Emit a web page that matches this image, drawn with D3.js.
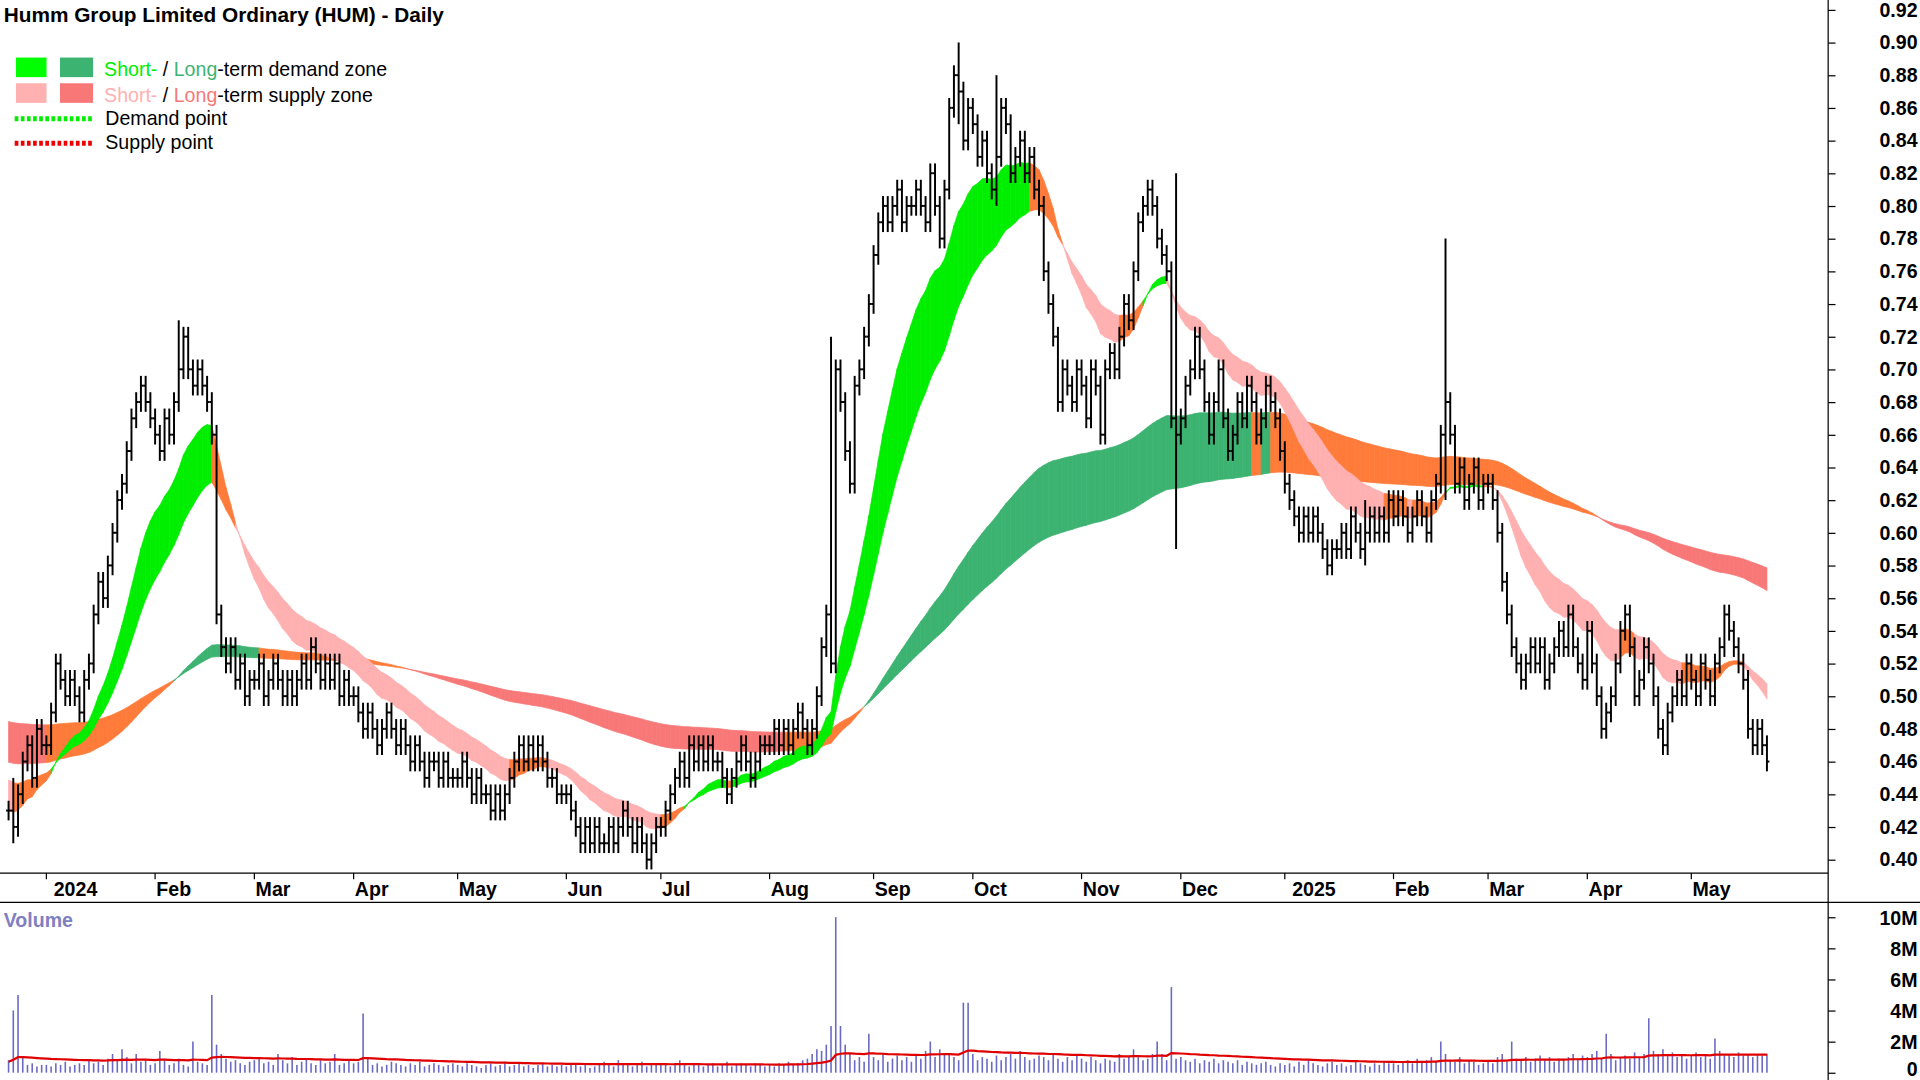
<!DOCTYPE html>
<html><head><meta charset="utf-8">
<script src="https://cdn.jsdelivr.net/npm/d3@7"></script>
<style>body{margin:0;background:#fff}svg{display:block;font-family:"Liberation Sans",Arial,sans-serif}</style>
</head><body><svg id="c" width="1920" height="1080"></svg>
<script>
// ---------- DATA ----------
const startDate = "2023-12-20";
const closes = [
43,42,44,46,47,45,48,47,
47,49,52,51,50,51,50,49,51,52,55,57,56,58,60,62,63,65,67,68,69,68,67,
66,65,67,66,68,70,72,70,69,70,69,68,66,55,53,52,53,51,52,50,51,
51,52,50,51,52,51,50,51,50,51,52,51,53,52,51,52,51,52,50,51,50,
50,49,48,49,48,47,48,49,48,47,48,47,46,47,46,45,46,46,45,46,45,45,
45,46,45,44,45,44,44,43,44,43,44,45,46,47,46,47,46,47,46,45,45,44,44,
44,43,42,41,42,41,42,41,41,42,41,42,43,42,41,42,41,40,41,42,
42,43,44,45,46,45,47,46,47,46,47,46,46,45,44,45,46,47,46,45,46,47,47,
47,48,47,48,47,48,49,48,47,48,50,53,55,52,70,68,65,63,69,70,72,74,
77,79,80,79,80,81,79,80,80,81,80,79,82,80,78,81,86,88,87,84,86,
85,83,84,82,81,83,86,85,82,83,84,82,83,81,80,76,74,72,68,70,69,68,70,
69,67,70,69,66,70,71,70,72,74,73,76,79,80,81,80,78,77,76,67,66,
67,69,70,72,70,68,66,68,70,67,65,66,68,67,69,68,66,67,69,68,67,65,
63,62,61,60,61,60,61,60,59,58,59,59,60,59,61,60,59,60,61,60,61,60,62,
61,62,61,60,61,62,61,60,62,63,66,68,66,63,64,62,63,64,62,63,
63,62,60,57,55,53,52,51,52,53,52,53,51,52,53,54,53,55,53,52,51,
54,52,50,48,49,50,52,54,55,53,50,51,53,52,50,48,47,49,50,51,50,52,
51,50,52,51,50,52,53,55,54,53,52,51,48,47,48,47,46
];
const wicks = [[1,45,41],[36,73,69],[174,72,58],[201,90,85],[209,88,80],[247,82,59],[304,78,62],[287,62,58]];
const volumes = [
8,40,50,10,5,6,4,5,
5,4,6,5,7,4,5,6,5,8,6,7,5,9,12,8,15,10,6,12,7,8,5,
6,14,8,5,6,9,5,4,20,7,6,5,50,18,12,9,7,8,6,5,7,
8,10,6,7,5,12,8,6,10,5,7,9,6,5,8,6,7,12,5,6,8,
6,7,38,9,5,6,4,5,7,6,5,4,6,5,7,4,5,6,5,4,5,6,
5,4,6,5,4,3,5,6,4,5,7,4,5,6,4,5,3,5,6,4,5,4,5,
4,5,6,4,5,3,4,6,7,5,4,8,5,6,4,5,7,4,6,5,
6,5,4,6,8,5,4,5,6,4,5,6,4,5,7,4,5,6,5,4,6,5,4,
5,4,6,5,7,5,6,8,9,12,15,14,18,30,100,30,18,12,8,10,7,25,
10,8,12,7,9,11,8,10,7,12,9,14,20,10,15,12,12,10,8,45,45,
12,8,10,9,7,11,8,10,12,9,14,10,8,9,11,10,8,12,9,7,10,8,11,
9,7,10,8,6,9,8,7,12,9,10,15,10,8,9,12,20,12,8,55,9,
10,8,7,9,6,8,7,9,6,8,7,6,8,5,7,6,5,6,7,5,4,6,
5,6,4,7,5,8,6,5,4,6,7,5,6,4,5,7,6,5,4,6,5,7,6,
6,5,7,8,6,9,7,8,10,7,20,12,8,7,10,6,8,7,5,6,
8,6,10,12,7,20,9,8,10,7,9,11,8,10,7,9,8,10,12,9,11,
10,12,14,9,25,12,8,10,11,9,13,10,12,35,14,12,15,11,13,10,12,9,
11,13,10,12,9,22,14,11,12,10,13,11,12,10,12,11,12
];
const priceTicks = [0.40,0.42,0.44,0.46,0.48,0.50,0.52,0.54,0.56,0.58,0.60,0.62,0.64,0.66,0.68,0.70,0.72,0.74,0.76,0.78,0.80,0.82,0.84,0.86,0.88,0.90,0.92];
const volTicks = [0,2,4,6,8,10];
const monthNames = ["Jan","Feb","Mar","Apr","May","Jun","Jul","Aug","Sep","Oct","Nov","Dec"];
const shortSeeds = [0.43,0.45], longSeeds = [0.46,0.485];
const shortPeriods=[18,32], longPeriods=[125,200];

// ---------- BUILD ----------
const N = closes.length;
const dates=[]; {let d=new Date(startDate+"T00:00:00");while(dates.length<N){const w=d.getDay();if(w!==0&&w!==6)dates.push(new Date(d));d.setDate(d.getDate()+1);}}
const c = closes.map(v=>v/100);
const root=d3.select("#c");
const svg=root.append("g").attr("transform","scale("+(1920/1568)+")");
const x=d3.scaleLinear().domain([0,N-1]).range([7,1443]);
const y=d3.scaleLinear().domain([0.40,0.92]).range([702,8]);
const yv=d3.scaleLinear().domain([0,10]).range([876,749]);

function ema(p,seed){const a=2/(p+1);let e=seed;return c.map(v=>(e=e+a*(v-e)));}
function band(ps,seeds,cols,lag){
  const f=ema(ps[0],seeds[0]),s=ema(ps[1],seeds[1]);
  for(let i=0;i<N-1;i++){
    const up=f[i+1]>s[i+1], rising=f[i+1]>=f[Math.max(0,i+1-lag)];
    const col=(up&&rising)?cols[0]:(!up&&!rising)?cols[1]:cols[2];
    const pts=[[x(i),y(f[i])],[x(i+1),y(f[i+1])],[x(i+1),y(s[i+1])],[x(i),y(s[i])]];
    svg.append("path").attr("d","M"+pts.join("L")+"Z").attr("fill",col).attr("stroke",col).attr("stroke-width",0.6);
  }
}
band(longPeriods,longSeeds,["#3cb371","#f87878","#ff7b3a"],12);
band(shortPeriods,shortSeeds,["#00ee00","#ffb0b0","#ff7b3a"],3);

const wmap={};wicks.forEach(w=>wmap[w[0]]=w);
const g=svg.append("g").attr("stroke","#000").attr("stroke-width",1.6);
for(let i=0;i<N;i++){
  const o=i?c[i-1]:c[i];let hi=Math.max(o,c[i])+0.006,lo=Math.min(o,c[i])-0.006;
  if(wmap[i]){hi=Math.max(hi,wmap[i][1]/100);lo=Math.min(lo,wmap[i][2]/100);}
  const xi=x(i);
  g.append("line").attr("x1",xi).attr("x2",xi).attr("y1",y(hi)).attr("y2",y(lo));
  g.append("line").attr("x1",xi-2).attr("x2",xi).attr("y1",y(o)).attr("y2",y(o));
  g.append("line").attr("x1",xi).attr("x2",xi+2).attr("y1",y(c[i])).attr("y2",y(c[i]));
}

svg.append("line").attr("x1",1493).attr("x2",1493).attr("y1",0).attr("y2",882).attr("stroke","#000");
svg.append("line").attr("x1",0).attr("x2",1493).attr("y1",713).attr("y2",713).attr("stroke","#000");
svg.append("line").attr("x1",0).attr("x2",1568).attr("y1",737).attr("y2",737).attr("stroke","#000");

const ax=svg.append("g").attr("transform","translate(1493,0)").call(d3.axisRight(y).tickValues(priceTicks).tickSize(6).tickFormat(d3.format(".2f")));
ax.select(".domain").remove();
ax.selectAll("text").attr("x",73).attr("text-anchor","end").attr("font-size",16).attr("font-weight","bold").attr("font-family","Liberation Sans");
const av=svg.append("g").attr("transform","translate(1493,0)").call(d3.axisRight(yv).tickValues(volTicks).tickSize(6).tickFormat(d=>d?d+"M":"0"));
av.select(".domain").remove();
av.selectAll("text").attr("x",73).attr("text-anchor","end").attr("dy",d=>d?"0.35em":"0.15em").attr("font-size",16).attr("font-weight","bold").attr("font-family","Liberation Sans");

for(let i=0;i<N;i++){
  if(i===0||dates[i].getMonth()===dates[i-1].getMonth())continue;
  const m=dates[i].getMonth();
  const lab=m===0?String(dates[i].getFullYear()):monthNames[m];
  svg.append("line").attr("x1",x(i)).attr("x2",x(i)).attr("y1",713).attr("y2",718).attr("stroke","#000");
  svg.append("text").attr("x",x(i)+(m===0?6:1)).attr("y",732).attr("font-size",16).attr("font-weight","bold").text(lab);
}

svg.append("g").selectAll("line").data(volumes.slice(0,N)).join("line")
 .attr("x1",(d,i)=>x(i)).attr("x2",(d,i)=>x(i)).attr("y1",yv(0)).attr("y2",d=>yv(d/10))
 .attr("stroke","#6a6ac4").attr("stroke-width",1.3);
let ve=7;const va=2/51;
const vma=volumes.slice(0,N).map(v=>(ve=ve+va*(v-ve))/10);
svg.append("path").datum(vma).attr("fill","none").attr("stroke","#e00000").attr("stroke-width",1.8)
 .attr("d",d3.line().x((d,i)=>x(i)).y(d=>yv(d)));
svg.append("text").attr("x",3).attr("y",757).attr("font-size",16).attr("font-weight","bold").attr("fill","#8080c0").text("Volume");

svg.append("text").attr("x",3).attr("y",18).attr("font-size",17).attr("font-weight","bold").text("Humm Group Limited Ordinary (HUM) - Daily");
const L=[["#00ff00","#3cb371","#00ee00","#3cb371","-term demand zone",62],["#ffb0b0","#f87878","#ffb0b0","#f87878","-term supply zone",83]];
L.forEach(r=>{
  svg.append("rect").attr("x",13).attr("y",r[5]-15).attr("width",25).attr("height",16).attr("fill",r[0]);
  svg.append("rect").attr("x",49).attr("y",r[5]-15).attr("width",27).attr("height",16).attr("fill",r[1]);
  const t=svg.append("text").attr("x",85).attr("y",r[5]).attr("font-size",16);
  t.append("tspan").attr("fill",r[2]).text("Short-");
  t.append("tspan").attr("fill","#000").text(" / ");
  t.append("tspan").attr("fill",r[3]).text("Long");
  t.append("tspan").attr("fill","#000").text(r[4]);
});
[["#00ee00","Demand point",97],["#ee0000","Supply point",117]].forEach(r=>{
  svg.append("line").attr("x1",12).attr("x2",76).attr("y1",r[2]).attr("y2",r[2]).attr("stroke",r[0]).attr("stroke-width",4).attr("stroke-dasharray","3,2");
  svg.append("text").attr("x",86).attr("y",r[2]+5).attr("font-size",16).text(r[1]);
});
</script></body></html>
